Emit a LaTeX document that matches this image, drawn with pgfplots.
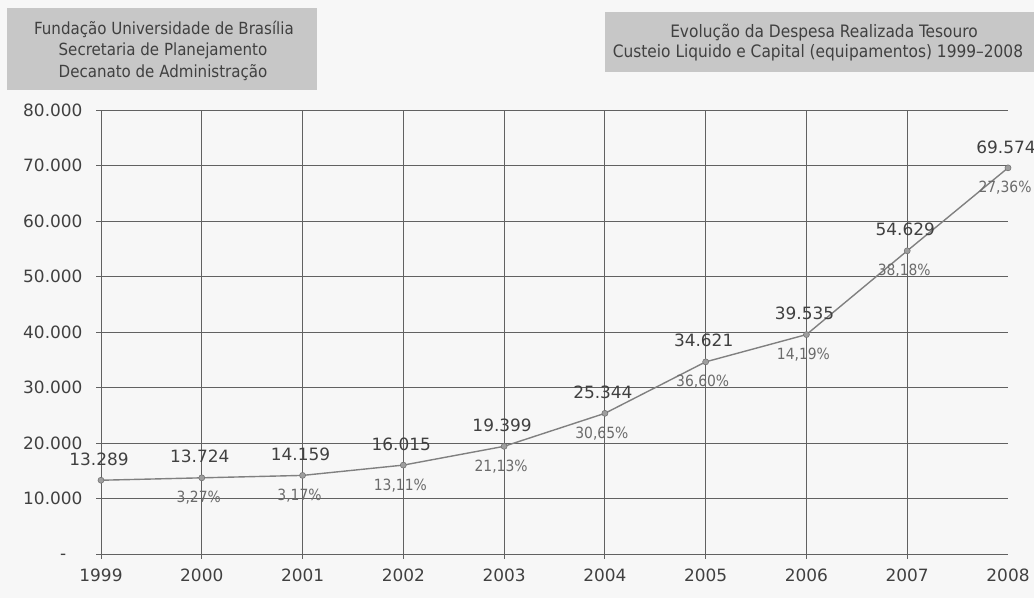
\documentclass[border=0pt]{standalone}
\usepackage{fontspec}
\setmainfont{DejaVu Sans}
\newfontfamily\condfont{DejaVu Sans Condensed}
\usepackage{pgfplots}
\pgfplotsset{compat=1.18}
\begin{document}
\begin{tikzpicture}[x=1bp,y=1bp]
\fill[black!3] (-101,-44) rectangle (933,554);
\useasboundingbox (-101,-44) rectangle (933,554);
% header boxes
\fill[black!22] (-94,464) rectangle (216,546);
\begin{scope}[every node/.style={font=\condfont\fontsize{16.8}{20}\selectfont, text=black!75, inner sep=0pt}]
\node at (63,525) {Fundação Universidade de Brasília};
\node at (62,503) {Secretaria de Planejamento};
\node at (62,481) {Decanato de Administração};
\end{scope}
\fill[black!22] (504,482) rectangle (933,542);
\begin{scope}[every node/.style={font=\condfont\fontsize{17.2}{20}\selectfont, text=black!75, inner sep=0pt}]
\node at (723,521) {Evolução da Despesa Realizada Tesouro};
\node at (717,501) {Custeio Liquido e Capital (equipamentos) 1999–2008};
\end{scope}
\begin{axis}[
  at={(0,0)}, anchor=south west, scale only axis,
  width=907bp, height=444bp,
  xmin=1999, xmax=2008, ymin=0, ymax=80000,
  scaled y ticks=false,
  clip=false,
  axis line style={draw=none},
  xtick={1999,2000,2001,2002,2003,2004,2005,2006,2007},
  xticklabels={1999,2000,2001,2002,2003,2004,2005,2006,2007},
  extra x ticks={2008},
  extra x tick labels={2008},
  extra x tick style={grid=none, tick style={draw=none}},
  ytick={0,10000,20000,30000,40000,50000,60000,70000,80000},
  yticklabels={{-\phantom{0,}},10.000,20.000,30.000,40.000,50.000,60.000,70.000,80.000},
  grid=major,
  major grid style={black!62, line width=0.9pt},
  tick style={black!62, line width=0.9pt},
  tick align=outside,
  major tick length=5bp,
  xtick pos=bottom, ytick pos=left,
  ticklabel style={font=\fontsize{17}{20}\selectfont, text=black!75},
  xticklabel style={yshift=-6bp},
  yticklabel style={xshift=-10bp},
  point meta=explicit symbolic,
]
\addplot[black!50, line width=1.4pt, mark=*, mark size=3bp,
  mark options={fill=black!38, draw=black!55, line width=0.6pt},
  nodes near coords,
  every node near coord/.append style={font=\fontsize{17}{20}\selectfont, text=black!75, anchor=south, yshift=11bp, xshift=-2bp}]
coordinates {
(1999,13289) [13.289]
(2000,13724) [13.724]
(2001,14159) [14.159]
(2002,16015) [16.015]
(2003,19399) [19.399]
(2004,25344) [25.344]
(2005,34621) [34.621]
(2006,39535) [39.535]
(2007,54629) [54.629]
(2008,69574) [69.574]
};
\addplot[draw=none, mark=none,
  nodes near coords,
  every node near coord/.append style={font=\condfont\fontsize{15.5}{18}\selectfont, text=black!58, anchor=north, yshift=-10bp, xshift=-3bp}]
coordinates {
(2000,13724) [3,27\%]
(2001,14159) [3,17\%]
(2002,16015) [13,11\%]
(2003,19399) [21,13\%]
(2004,25344) [30,65\%]
(2005,34621) [36,60\%]
(2006,39535) [14,19\%]
(2007,54629) [38,18\%]
(2008,69574) [27,36\%]
};
\end{axis}
\end{tikzpicture}
\end{document}
